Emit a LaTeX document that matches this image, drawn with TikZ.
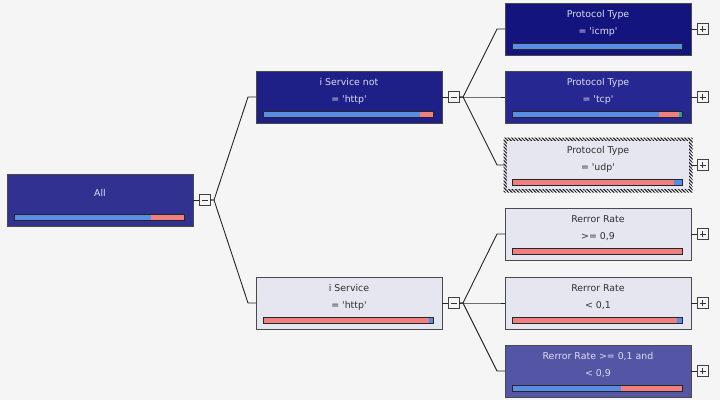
\documentclass[tikz,border=0pt]{standalone}
\usepackage{fontspec}
\setmainfont{DejaVu Sans}[Ligatures=TeXOff]
\usetikzlibrary{calc,positioning,patterns.meta}
\definecolor{bgc}{HTML}{F5F5F5}
\definecolor{rootc}{HTML}{313191}
\definecolor{nonec}{HTML}{1F1F88}
\definecolor{icmpc}{HTML}{14147F}
\definecolor{tcpc}{HTML}{272791}
\definecolor{lightc}{HTML}{E6E6F0}
\definecolor{midc}{HTML}{5555A6}
\definecolor{darktxt}{HTML}{DCDCF0}
\definecolor{lighttxt}{HTML}{303030}
\definecolor{barblue}{HTML}{5A8DE6}
\definecolor{barred}{HTML}{F08080}
\definecolor{barteal}{HTML}{2AA198}
\definecolor{bordc}{HTML}{4A4A4A}
\tikzset{
  box/.style={draw=bordc, line width=1pt, minimum width=186pt, minimum height=52pt, inner sep=0pt, outer sep=0pt},
  lbl/.style={inner sep=0pt, font=\fontsize{9.4}{11}\selectfont},
  conn/.style={draw=black!85, line width=0.9pt},
  expbox/.style={draw=black!75, line width=0.9pt, minimum size=11pt, inner sep=0pt, outer sep=0pt, fill=bgc},
  minusbox/.style={expbox, path picture={\draw[line width=0.9pt,black!80] ([xshift=2.5pt]path picture bounding box.west) -- ([xshift=-2.5pt]path picture bounding box.east);}},
  plusbox/.style={expbox, path picture={\draw[line width=0.9pt,black!80] ([xshift=2.5pt]path picture bounding box.west) -- ([xshift=-2.5pt]path picture bounding box.east) ([yshift=-2.5pt]path picture bounding box.north) -- ([yshift=2.5pt]path picture bounding box.south);}},
  barline/.style={draw=black!85, line width=0.8pt},
  bseg/.style={fill=barblue},
  rseg/.style={fill=barred},
  tseg/.style={fill=barteal}
}
\newcommand{\TB}[7]{% name, left, top, box style, text colour, line1, line2
  \node[box,#4,anchor=north west] (#1) at (#2,#3) {};
  \node[lbl,text=#5,anchor=base] (#1-l1) at ($(#1.north)+(0,14.5)$) {#6};
  \node[lbl,text=#5,anchor=base] (#1-l2) at ($(#1.north)+(0,31.5)$) {#7};
}
\newcommand{\BarOf}[2]{%
  \begin{scope}[shift={(#1.north west)}]
    \foreach \c/\a/\b in {#2} { \fill[\c] (7.5+\a,40) rectangle (7.5+\b,46.5); }
    \draw[barline] (7.5,40) rectangle (177.5,46.5);
  \end{scope}}
\begin{document}
\begin{tikzpicture}[x=1pt,y=-1pt]
\fill[bgc] (0,0) rectangle (720,400);
\useasboundingbox (0,0) rectangle (720,400);

% root
\node[box,fill=rootc,anchor=north west] (root) at (7,174) {};
\node[lbl,text=darktxt,anchor=base] (root-l1) at ($(root.north)+(0,22.5)$) {All};
\BarOf{root}{bseg/0/136,rseg/136/170}

% level 1
\TB{n1}{256}{71}{fill=nonec}{darktxt}{i Service not}{= 'http'}
\BarOf{n1}{bseg/0/156,rseg/156/170}
\TB{n2}{256}{277}{fill=lightc}{lighttxt}{i Service}{= 'http'}
\BarOf{n2}{rseg/0/165,bseg/165/170}

% level 2
\TB{a}{505}{3}{fill=icmpc}{darktxt}{Protocol Type}{= 'icmp'}
\BarOf{a}{bseg/0/170}
\TB{b}{505}{71}{fill=tcpc}{darktxt}{Protocol Type}{= 'tcp'}
\BarOf{b}{bseg/0/146,rseg/146/166,tseg/166/170}
\TB{c}{505}{139}{fill=lightc,draw=none}{lighttxt}{Protocol Type}{= 'udp'}
\BarOf{c}{rseg/0/161,bseg/161/170}
\fill[pattern={Lines[angle=-45,distance=2.4pt,line width=1pt]}, pattern color=black!90, even odd rule]
  ($(c.north west)+(-1.5,-1.5)$) rectangle ($(c.south east)+(1.5,1.5)$)
  ($(c.north west)+(1.8,1.8)$) rectangle ($(c.south east)+(-1.8,-1.8)$);
\TB{d}{505}{208}{fill=lightc}{lighttxt}{Rerror Rate}{>= 0,9}
\BarOf{d}{rseg/0/170}
\TB{e}{505}{277}{fill=lightc}{lighttxt}{Rerror Rate}{< 0,1}
\BarOf{e}{rseg/0/164,bseg/164/170}
\TB{f}{505}{345}{fill=midc}{darktxt}{Rerror Rate >= 0,1 and}{< 0,9}
\BarOf{f}{bseg/0/108,rseg/108/170}

% expand boxes
\node[minusbox, right=6pt of root] (root-x) {};
\node[minusbox, right=6pt of n1] (n1-x) {};
\node[minusbox, right=6pt of n2] (n2-x) {};
\foreach \n in {a,b,c,d,e,f} { \node[plusbox, right=6pt of \n] (\n-x) {}; }

% connectors
\draw[conn] (root.east) -- (root-x.west);
\draw[conn] (n1.east) -- (n1-x.west);
\draw[conn] (n2.east) -- (n2-x.west);
\foreach \n in {a,b,c,d,e,f} { \draw[conn] (\n.east) -- (\n-x.west); }

\coordinate (root-j) at ($(root-x.east)+(4,0)$);
\coordinate (n1-j) at ($(n1-x.east)+(4,0)$);
\coordinate (n2-j) at ($(n2-x.east)+(4,0)$);

\foreach \p/\c in {root/n1,root/n2,n1/a,n1/b,n1/c,n2/d,n2/e,n2/f} {
  \draw[conn, line join=miter] (\p-x.east) -- (\p-j) -- ([xshift=-8pt]\c.west) -- (\c.west);
}
\end{tikzpicture}
\end{document}
